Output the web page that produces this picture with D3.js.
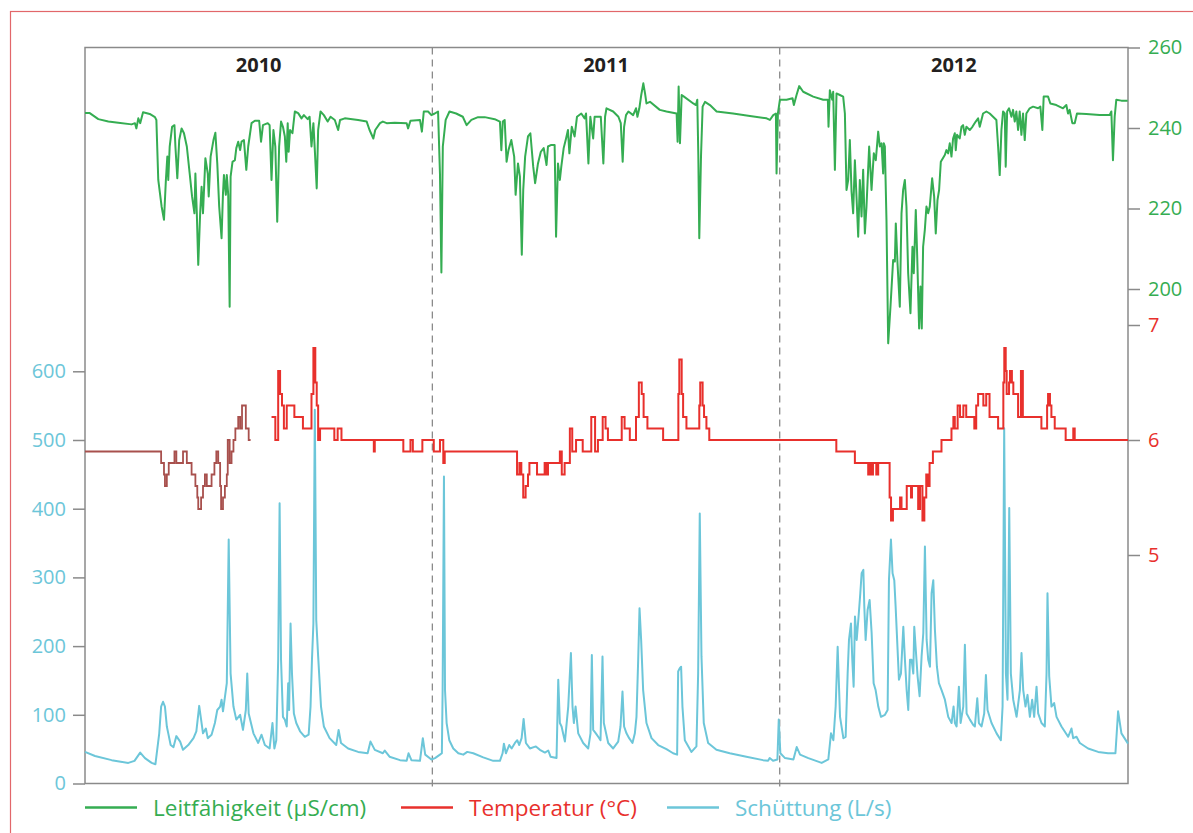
<!DOCTYPE html>
<html>
<head>
<meta charset="utf-8">
<script src="https://cdn.jsdelivr.net/npm/d3@7"></script>
<style>
body { margin: 0; background: #fff; }
svg { display: block; font-family: "Open Sans", "Noto Sans", sans-serif; }
</style>
</head>
<body>
<script>
// Daten: [Tag seit 1.1.2010, Wert]
var jahre = ["2010", "2011", "2012"];
var jahresTage = [0, 365, 730, 1096];

var leitfaehigkeit = [[0,243.7],[5,243.7],[14,242.2],[24.5,241.6],[35,241.3],[49,240.9],[52.5,241.2],[54,239.9],[56,242.4],[58,241.2],[61,243.9],[68,243.5],[73.5,242.7],[75,242],[77,227.1],[80.5,220.5],[83,217.2],[85,227.1],[86.5,232.9],[87.5,227.1],[89,235.4],[91.5,240.3],[94,240.7],[95,235.4],[97,227.5],[99,237],[101.5,239.9],[104,238.7],[107,235.4],[110,228.7],[112.5,223],[115,218.8],[116,228.7],[117.5,218.8],[119,206],[121,218.8],[122.5,225.4],[124,218.8],[126.5,232.5],[129,228.7],[130,223],[132,232.9],[135,237],[137,238.8],[139,231.2],[141,220.5],[143.5,212.6],[145,223.8],[146,228.3],[148,223.4],[149,228.3],[150.5,223.4],[152,195.6],[153,227.9],[155,231.6],[157.5,232],[159,235],[161,236.6],[163,234.5],[164.5,236.6],[167,237],[169.5,229.6],[171.5,235.4],[175,241.2],[178.5,241.8],[183,241.8],[185,236.6],[187,240.7],[192,241.2],[194,240.7],[196,227.1],[198,239.5],[200,235.4],[202,216.7],[204,235.4],[206,241.6],[208,240.3],[210,237.9],[211.5,231.6],[213,241.2],[214,234.1],[215.5,239.5],[218,238.7],[220.5,244.1],[224,243.7],[227.5,242.4],[230,243.2],[234,242.2],[236,242.8],[238,235.4],[240,241.2],[241.5,234.5],[243.5,225],[245,239.5],[247.5,244.1],[251,243.2],[255,241.6],[258,242.8],[262.5,242],[266,239.5],[268,242],[273,242.4],[287,242],[296,241.6],[299,239.5],[303,237.4],[305,239.5],[310,241.2],[313,241.6],[317,241.2],[325.5,241.3],[338,241.2],[339.5,239.9],[342,241.8],[352,242],[354,239.1],[356,244.1],[360.5,244.1],[364,243.2],[367.5,243.6],[371,244.1],[373,228.7],[374.5,204.1],[376,235.4],[379,242],[383,244.1],[390,243.6],[397,242.8],[401,240.7],[406,242],[413,242.7],[420,242.7],[430.5,242.2],[436,241.6],[437.5,234.5],[439,241.6],[441,242],[443,231.6],[445,234.5],[448,237],[451,232.9],[452.5,223.4],[455,231.2],[457,227.9],[459,208.5],[460.5,224.6],[462.5,232.9],[465.5,237.9],[468,238.7],[471,230.4],[473,226.3],[476,231.2],[479,234.1],[482,235],[485,230.8],[486.5,235.4],[490,235.8],[493.5,235.8],[495,213],[497,231.2],[499,227.1],[500.5,230.4],[503,235],[505.5,237.4],[507.5,239.5],[509,233.7],[511.5,240.3],[514.5,237.9],[517,242.8],[521.5,243.6],[525,242.4],[526.5,243.6],[529,231.2],[531,242.8],[534,237.4],[535.5,242.8],[539,242.8],[542,242.8],[544.7,231.2],[546.5,242.8],[548,244.9],[555,244.1],[560.5,242.8],[563,241.2],[565,231.6],[566.5,240.3],[568.5,243.2],[571,244.1],[576,243.2],[579,244.9],[580.5,242.8],[582.5,244.9],[584.5,248.2],[586.7,251.1],[588.5,248.6],[590,246.1],[593.7,246.5],[604,244.5],[611,244.1],[621.7,243.6],[622.7,236.6],[623.8,250.3],[625.2,236.2],[627,248.2],[629.4,247.8],[639.2,246.1],[642,245.7],[643.4,247],[644.5,232.9],[645.5,212.6],[647.3,232.9],[649,245.3],[651.5,246.5],[656.7,245.7],[663.7,244.1],[681,243.6],[698.7,243],[716.2,242.4],[719.7,242],[723.2,243.2],[726,243.6],[726.7,228.7],[728.1,243.6],[730.2,247],[737.2,247],[743.5,247.4],[744.9,245.7],[747.7,248.2],[750.5,250.4],[754.7,249],[765.2,247.8],[775.7,247],[780.6,247],[781.3,240.3],[782.7,249.4],[785.2,247],[786.2,249],[788,229.6],[789.7,248.6],[793.2,248.2],[796.7,247.8],[798.5,243.6],[800.2,224.6],[802,227.1],[803.7,237],[805.5,224.2],[807.2,218.8],[809,232],[810.7,223],[812.5,213],[814.2,227.1],[816,218],[817.7,229.6],[819.5,213.8],[821.2,220.5],[824,235.4],[826.5,224.6],[828.9,233.7],[831,232],[833.5,239.1],[835.2,235.4],[837,236.2],[838.7,228.7],[839.4,236.2],[840.5,235.4],[842.2,217.2],[844,186.5],[846.4,195.6],[849.2,207.2],[851,206.8],[852,216.3],[853.8,206.4],[856.2,195.6],[858,218.8],[859.7,224.6],[861.5,227.1],[863.2,220.5],[865,203.9],[867.4,194],[869.5,210.5],[870.9,203.9],[873,219.6],[874.4,208.9],[876.5,190.2],[877.9,200.6],[879.3,190.2],[880.7,210.5],[882.5,214.7],[884.2,220.5],[886,218.8],[887.7,220.5],[890.2,227.5],[892.3,223],[894,213.8],[895.8,222.1],[897.5,224.6],[899.3,231.6],[903.5,233.3],[905.2,234.5],[907,233.7],[908.7,236.2],[910.5,232.9],[912.2,237.4],[914,238.7],[915,234.5],[916.4,238.3],[919.2,237.4],[921,240.3],[922.7,240.7],[924.5,238.3],[926.2,240.3],[929.7,239.5],[932.5,240.3],[936,241.6],[938.5,242.4],[940.2,240.3],[943.7,243.6],[947.2,244.1],[950.7,243.6],[957.7,242],[959.5,235.4],[961.2,228.3],[963,239.5],[964.7,244.1],[966.5,243.6],[967.5,230.4],[969,244.1],[971,244.9],[973.5,242.8],[975.2,244.5],[977,241.6],[978.7,244.1],[980.5,239.5],[982.2,244.1],[984,238.3],[985.7,243.6],[987.5,237],[989.2,243.6],[992.7,244.9],[996.2,245.3],[1001.5,244.9],[1003.9,245.3],[1006,239.5],[1007.4,247.8],[1012,247.8],[1014.4,246.1],[1020.7,245.7],[1027.7,244.9],[1031.2,245.7],[1033,243.6],[1034.7,244.5],[1037.5,241.2],[1040,241.2],[1042.4,243.6],[1052.2,243.5],[1066.2,243.2],[1076.7,243.2],[1078.5,244.1],[1080.2,232],[1082,242.8],[1083.7,247],[1089,246.8],[1095.6,246.8]];

var temperaturBraun = [[0,5.9],[80,5.8],[83,5.7],[84,5.6],[86,5.7],[88,5.8],[94,5.9],[96,5.8],[103,5.9],[107,5.8],[112,5.7],[116,5.6],[118,5.5],[119,5.4],[122,5.5],[124,5.6],[126,5.7],[128,5.6],[133,5.7],[136,5.8],[138,5.9],[140,5.8],[142,5.6],[143,5.4],[145,5.5],[147,5.6],[149,5.7],[150,6.0],[152,5.8],[154,5.9],[156,6.0],[158,6.1],[161,6.2],[163,6.1],[165,6.3],[169,6.1],[172,6.0],[174,6.0]];

var temperatur = [[196,6.2],[200,6.0],[203,6.6],[205,6.4],[207,6.3],[209,6.1],[212,6.3],[220,6.2],[229,6.1],[238,6.4],[240,6.8],[242,6.5],[243.5,6.3],[245,6.0],[247,6.1],[262,6.0],[265.5,6.1],[269.5,6.0],[303.5,5.9],[304.5,6.0],[334.5,5.9],[342,6.0],[344.5,5.9],[354.5,6.0],[366.5,5.9],[373,6.0],[376.5,5.8],[378,5.9],[454,5.7],[456.5,5.8],[458.5,5.7],[460.5,5.5],[463,5.6],[465.5,5.7],[467,5.8],[475,5.7],[483,5.8],[484.5,5.7],[486.5,5.8],[499,5.9],[501,5.7],[504,5.8],[509.5,6.1],[512,5.9],[516,6.0],[523,5.9],[532,6.2],[536,5.9],[539,6.0],[544,6.2],[547,6.1],[549.5,6.0],[564,6.2],[567,6.1],[572.5,6.0],[579,6.2],[582,6.5],[585,6.4],[587,6.2],[591,6.1],[607.5,6.0],[623.5,6.4],[624.5,6.7],[627,6.4],[628.5,6.2],[632,6.1],[645.5,6.3],[646.5,6.5],[649,6.3],[650.5,6.2],[653,6.1],[656,6.0],[789.5,5.9],[809,5.8],[823,5.7],[825,5.8],[826.5,5.7],[828,5.8],[831.5,5.7],[833.5,5.8],[845.5,5.5],[847,5.3],[849,5.4],[856.5,5.5],[858,5.4],[863.5,5.6],[868,5.5],[869,5.6],[875.5,5.4],[877.5,5.6],[880,5.3],[882,5.5],[884,5.7],[886,5.6],[887.5,5.8],[891,5.9],[900,6.0],[910.5,6.1],[912.5,6.2],[914,6.1],[917,6.3],[919.5,6.2],[923,6.3],[926,6.2],[934.5,6.1],[936.5,6.3],[938.5,6.4],[944,6.3],[947,6.4],[950.5,6.2],[959.5,6.1],[965,6.5],[966,6.8],[967.5,6.6],[968.5,6.4],[971,6.5],[972,6.6],[974,6.5],[975.5,6.4],[980.5,6.2],[983.5,6.6],[985.5,6.2],[1005,6.1],[1011,6.3],[1012,6.4],[1014,6.3],[1015.5,6.2],[1019,6.1],[1030.5,6.0],[1038.5,6.1],[1040,6.0],[1096,6.0]];

var schuettung = [[0,46],[10.5,40],[28,34],[45.5,30],[52,33],[58,45],[63,37],[70,30],[74,28],[78,73],[80,112],[82,119],[84,112],[86,83],[87.5,73],[90,56],[93,53],[96,69],[100,61],[103,49],[108.5,56],[114,66],[117,76],[120,113],[122,93],[124,73],[127,80],[129,66],[133,71],[136.5,88],[139,107],[142,112],[143.5,122],[145,105],[149,146],[151,355],[153,160],[156,112],[159,93],[163,100],[166,78],[169,107],[170.5,160],[172,102],[177,73],[182,59],[185.5,71],[189,56],[194,51],[197,88],[199,51],[201,63],[203,180],[204.5,408],[206,180],[208,97],[210,93],[212,83],[213.5,146],[214.5,107],[216,233],[217.5,160],[219.5,102],[222,88],[226,76],[231,68],[235,71],[237,112],[238.5,180],[240,233],[241.5,544],[243,238],[245,185],[248,112],[251,83],[257,66],[264,56],[266.5,78],[269,59],[276.5,51],[287,46],[297,44],[300,61],[304.5,49],[313,44],[315,48],[320,39],[331,34],[338,33],[340,44],[343,34],[352,33],[355,66],[357.5,42],[364,35],[367.8,37],[373,42],[375,44],[375.8,136],[377.2,447],[378.3,136],[380,88],[382.8,63],[387,51],[392.3,44],[397.5,42],[401.7,46],[408,44],[418.5,38],[429,33],[436,33],[438.8,44],[440.2,58],[442.3,44],[445.8,56],[448.3,51],[451.8,59],[454.2,63],[456.3,56],[458.8,66],[460.9,94],[463.3,59],[467.5,51],[473.8,54],[478,49],[483.3,45],[486.8,48],[489.2,39],[495.5,37],[497.3,151],[499,88],[500.8,83],[504.3,61],[507.8,112],[510.6,190],[512.3,112],[513.7,88],[515.5,112],[518.3,73],[523.5,59],[528.8,51],[531.2,73],[532.6,187],[534,78],[536.8,73],[539.3,68],[541.7,63],[543.8,185],[545.2,88],[549.8,59],[555,51],[560.3,61],[562.7,83],[564.8,134],[566.5,83],[569,73],[571.8,66],[575.3,59],[577.8,73],[579.5,97],[581.3,180],[582.7,255],[584.4,209],[586.5,136],[590,88],[595.3,66],[602.3,56],[611,50],[618,44],[622.2,42],[623.3,163],[625,168],[626.4,170],[627.8,112],[630.3,63],[637.3,46],[642.5,54],[644.3,160],[646,393],[647.8,185],[650.2,88],[654.8,59],[663.5,49],[677.5,44],[695,39],[712.5,34],[717.8,33],[719.5,37],[723,33],[727.6,35],[729,93],[730.7,44],[735.6,37],[744.4,35],[747.9,53],[751.4,42],[760.1,37],[774.1,30],[781.1,35],[783.9,73],[786.4,63],[788.8,112],[790.9,199],[793.4,97],[796.9,66],[799.3,68],[801.4,160],[802.8,209],[804.9,233],[806.3,180],[807.7,141],[809.1,243],[810.9,209],[812.6,238],[814.7,277],[816.1,306],[817.9,311],[818.9,258],[820.3,209],[822.4,253],[824.5,267],[826.6,219],[828.7,146],[830.8,136],[833.6,112],[836.4,97],[840.6,100],[843.4,107],[844.8,296],[846.9,355],[848.6,306],[850.4,296],[851.8,258],[853.9,194],[855.3,151],[857.4,160],[859.9,228],[861.6,180],[863.4,136],[865.1,107],[866.9,180],[868.6,180],[870.4,160],[871.4,228],[872.8,199],[874.9,156],[877,127],[879.1,185],[880.9,219],[882.6,345],[884.4,209],[886.1,180],[887.9,170],[889.6,277],[891.4,296],[893.1,224],[895.2,170],[897.3,146],[900.1,136],[903.6,122],[907.1,97],[910.6,88],[912.7,112],[914.1,88],[915.9,83],[918.3,141],[920.1,88],[922.9,112],[924.6,202],[926.4,102],[929.9,93],[933.4,85],[935.1,83],[937.6,124],[939.3,88],[942.1,83],[944.9,102],[946.7,158],[948.4,107],[952.6,88],[957.9,73],[962.4,63],[964.2,112],[965.9,517],[967.7,160],[969.4,122],[971.2,401],[972.9,160],[975.4,122],[978.9,97],[982.4,136],[984.1,190],[985.9,136],[988.3,112],[990.4,129],[992.9,97],[995.3,122],[997.4,97],[999.9,141],[1001.6,102],[1005.1,88],[1008.6,83],[1010.4,160],[1011.4,277],[1013.2,156],[1015.6,112],[1018.4,117],[1020.9,97],[1026.1,83],[1033.1,68],[1036.6,80],[1038.4,66],[1041.9,68],[1045.4,59],[1054.1,51],[1064.6,46],[1075.1,44],[1082.8,44],[1085.6,105],[1089.1,73],[1096,58]];

var ticksQ = [0, 100, 200, 300, 400, 500, 600];
var ticksL = [200, 220, 240, 260];
var ticksT = [5, 6, 7];

var legende = [
	{ name : "Leitfähigkeit (µS/cm)", farbe : "#35ad52", x : 85 },
	{ name : "Temperatur (°C)", farbe : "#e8302c", x : 401 },
	{ name : "Schüttung (L/s)", farbe : "#6cc6d9", x : 667 }
];

var width = 1193, height = 833;
var plotLeft = 85, plotRight = 1128, plotTop = 47.5, plotBottom = 783.5;

var svg = d3.select("body").append("svg").attr("width", width).attr("height", height);

// roter Rahmen
svg.append("rect").attr("x", 10.5).attr("y", 11.5).attr("width", 1200).attr("height", 840)
		.attr("fill", "none").attr("stroke", "#e2676a").attr("stroke-width", 1.2);

var x = d3.scaleLinear().domain([0, 1096]).range([plotLeft, plotRight]);
var yQ = d3.scaleLinear().domain([0, 600]).range([plotBottom, 371.3]);
var yT = d3.scaleLinear().domain([5, 7]).range([555, 325]);
var yL = d3.scaleLinear().domain([200, 260]).range([289, plotTop]);

// Jahrestrenner
svg.selectAll(".jahrlinie").data(jahresTage.slice(1, 3)).enter().append("line")
		.attr("x1", function(d) { return x(d); }).attr("x2", function(d) { return x(d); })
		.attr("y1", plotTop).attr("y2", plotBottom + 7)
		.attr("stroke", "#8a8a8a").attr("stroke-width", 1.3).attr("stroke-dasharray", "7,5");

svg.selectAll(".jahr").data(jahre).enter().append("text")
		.attr("x", function(d, i) { return x((jahresTage[i] + jahresTage[i + 1]) / 2); })
		.attr("y", 72).attr("text-anchor", "middle")
		.style("font-weight", "bold").style("font-size", "20px").style("fill", "#231f20")
		.text(function(d) { return d; });

// Rahmen des Diagramms
svg.append("rect").attr("x", plotLeft).attr("y", plotTop).attr("width", plotRight - plotLeft).attr("height", plotBottom - plotTop)
		.attr("fill", "none").attr("stroke", "#8a8a8a").attr("stroke-width", 1.5);

function styleAxis(g, farbe) {
	g.select(".domain").remove();
	g.selectAll(".tick line").attr("stroke", "#8a8a8a").attr("stroke-width", 1.5);
	g.selectAll(".tick text").style("font-size", "20px").style("fill", farbe)
			.style("font-family", "'Open Sans', 'Noto Sans', sans-serif");
}

svg.append("g").attr("transform", "translate(" + plotLeft + ",0)")
		.call(d3.axisLeft(yQ).tickValues(ticksQ).tickSize(12).tickPadding(7).tickFormat(d3.format("d")))
		.call(styleAxis, "#6cc6d9");

svg.append("g").attr("transform", "translate(" + plotRight + ",0)")
		.call(d3.axisRight(yL).tickValues(ticksL).tickSize(12).tickPadding(8).tickFormat(d3.format("d")))
		.call(styleAxis, "#35ad52");

svg.append("g").attr("transform", "translate(" + plotRight + ",0)")
		.call(d3.axisRight(yT).tickValues(ticksT).tickSize(12).tickPadding(8).tickFormat(d3.format("d")))
		.call(styleAxis, "#e8302c");

// Linien
var lineQ = d3.line().x(function(d) { return x(d[0]); }).y(function(d) { return yQ(d[1]); });
var lineL = d3.line().x(function(d) { return x(d[0]); }).y(function(d) { return yL(d[1]); });
var lineT = d3.line().curve(d3.curveStepAfter).x(function(d) { return x(d[0]); }).y(function(d) { return yT(d[1]); });

svg.append("path").datum(schuettung).attr("d", lineQ)
		.attr("fill", "none").attr("stroke", "#6cc6d9").attr("stroke-width", 2).attr("stroke-linejoin", "round");

svg.append("path").datum(temperaturBraun).attr("d", lineT)
		.attr("fill", "none").attr("stroke", "#a8504d").attr("stroke-width", 1.8);

svg.append("path").datum(temperatur).attr("d", lineT)
		.attr("fill", "none").attr("stroke", "#e8302c").attr("stroke-width", 2);

svg.append("path").datum(leitfaehigkeit).attr("d", lineL)
		.attr("fill", "none").attr("stroke", "#35ad52").attr("stroke-width", 2).attr("stroke-linejoin", "round");

// Legende
var legend = svg.selectAll(".legend").data(legende).enter().append("g").attr("class", "legend");

legend.append("line").attr("x1", function(d) { return d.x; }).attr("x2", function(d) { return d.x + 52; })
		.attr("y1", 807.5).attr("y2", 807.5).attr("stroke", function(d) { return d.farbe; }).attr("stroke-width", 2.5);

legend.append("text").attr("x", function(d) { return d.x + 68; }).attr("y", 815.5)
		.style("font-size", "22.5px").style("fill", function(d) { return d.farbe; })
		.text(function(d) { return d.name; });
</script>
</body>
</html>
